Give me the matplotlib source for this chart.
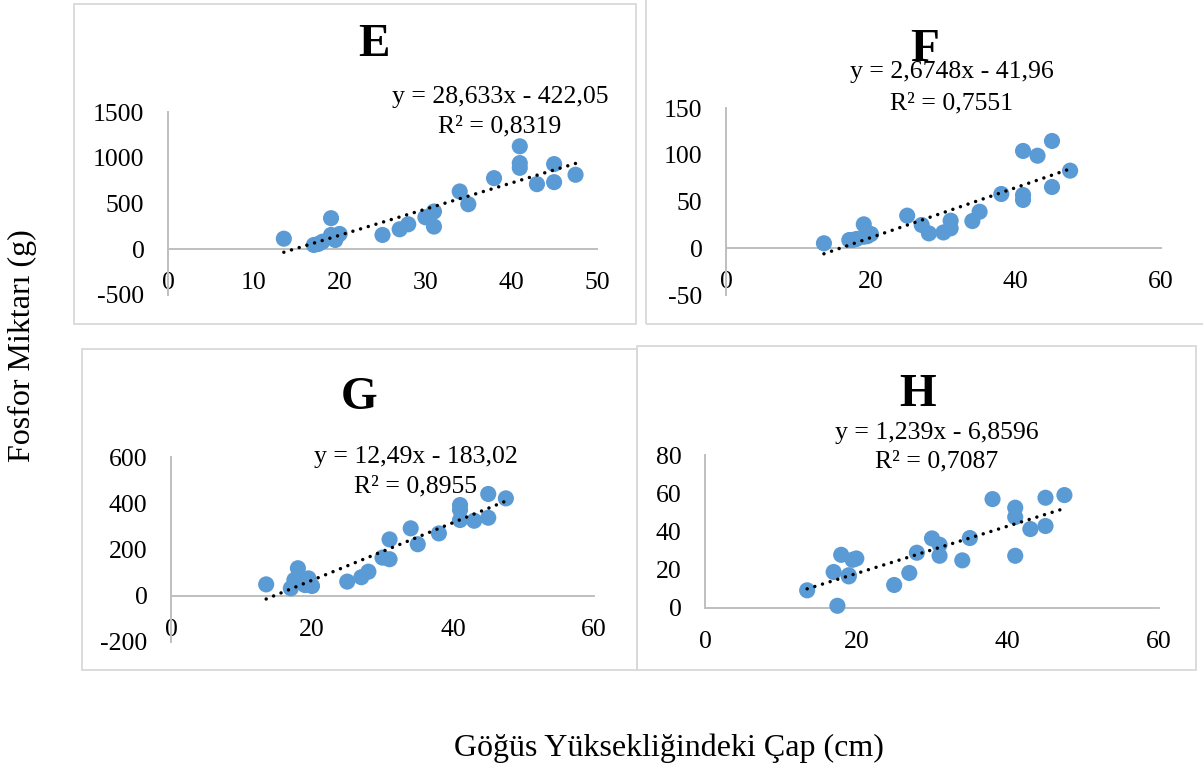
import numpy as np
import matplotlib
matplotlib.use("Agg")
import matplotlib.pyplot as plt
from matplotlib.patches import Rectangle

plt.rcParams['font.family'] = ['Liberation Serif', 'DejaVu Serif']

# ---------------- data ----------------
dbh = [13.5, 17.0, 17.5, 18.0, 19.0, 19.0, 19.5, 20.0, 25.0, 27.0, 28.0, 30.0,
       31.0, 31.0, 34.0, 35.0, 38.0, 41.0, 41.0, 41.0, 43.0, 45.0, 45.0, 47.5]

p_E = [113, 44, 55, 80, 338, 154, 99, 165, 154, 216, 271, 348,
       411, 246, 631, 491, 777, 1126, 942, 890, 711, 931, 733, 814]
p_F = [5.4, 8.9, 9.0, 10.0, 25.7, 12.4, 13.0, 15.3, 35.0, 25.0, 16.0, 17.0,
       29.6, 21.4, 29.2, 39.2, 58.2, 104.3, 57.1, 51.8, 99.2, 115.0, 65.7, 83.2]
p_G = [49, 32, 68, 119, 46, 60, 75, 42, 61, 80, 104, 165,
       244, 158, 292, 223, 270, 393, 372, 328, 325, 441, 338, 422]
p_H = [9.1, 18.7, 1.0, 27.7, 16.4, 17.0, 25.1, 25.8, 11.9, 18.2, 28.8, 36.3,
       33.0, 27.2, 24.8, 36.5, 56.9, 52.4, 47.5, 27.2, 41.2, 57.6, 42.8, 59.0]

panel_names = ["E", "F", "G", "H"]
slopes = [28.633, 2.6748, 12.49, 1.239]
intercepts = [-422.05, -41.96, -183.02, -6.8596]
equations = ["y = 28,633x - 422,05", "y = 2,6748x - 41,96",
             "y = 12,49x - 183,02", "y = 1,239x - 6,8596"]
r2_texts = ["R² = 0,8319", "R² = 0,7551", "R² = 0,8955", "R² = 0,7087"]

x_ticks = [[0, 10, 20, 30, 40, 50], [0, 20, 40, 60], [0, 20, 40, 60], [0, 20, 40, 60]]
y_ticks = [[-500, 0, 500, 1000, 1500], [-50, 0, 50, 100, 150],
           [-200, 0, 200, 400, 600], [0, 20, 40, 60, 80]]

x_label = "Göğüs Yüksekliğindeki Çap (cm)"
y_label = "Fosfor Miktarı (g)"

# ---------------- layout (pixels) ----------------
W, H = 1203, 769
fig = plt.figure(figsize=(W / 100, H / 100), dpi=100)

def fx(px):
    return px / W

def fy(py):
    return 1 - py / H

# axes rectangles: x0, x1, ytop, ybottom
ax_px = [(168, 597, 112.2, 294.6),
         (726.2, 1160.6, 108.3, 295.0),
         (171, 594, 457.3, 641.8),
         (705, 1159, 455.0, 607.7)]
# panel boxes: x0, x1, ytop, ybottom
box_px = [(74, 636, 4, 324),
          (645.7, 1215, -5, 324.3),
          (82, 637, 349.3, 670),
          (637.3, 1195.7, 345.7, 670)]
title_pos = [(374, 45), (925, 50), (359, 398), (918, 395)]
eq_pos = [(500, 96.7), (952, 71.7), (416, 456.7), (937, 432.7)]
r2_pos = [(500, 126), (952, 103), (416, 486.7), (937, 461.7)]

series = [p_E, p_F, p_G, p_H]

for (bx0, bx1, bt, bb) in box_px:
    fig.patches.append(Rectangle((fx(bx0), fy(bb)), fx(bx1) - fx(bx0), fy(bt) - fy(bb),
                                 transform=fig.transFigure, fill=False,
                                 edgecolor='#D9D9D9', linewidth=1.3, zorder=0))

axis_col = '#BFBFBF'
for i in range(4):
    x0, x1, yt, yb = ax_px[i]
    ax = fig.add_axes([fx(x0), fy(yb), fx(x1) - fx(x0), fy(yt) - fy(yb)])
    ax.patch.set_alpha(0)
    xs = np.array(dbh)
    ys = np.array(series[i])
    ax.scatter(xs, ys, s=135, color='#5B9BD5', edgecolors='none', zorder=3, clip_on=False)
    xl = np.array([xs.min(), xs.max()])
    ax.plot(xl, slopes[i] * xl + intercepts[i], color='black', linewidth=2.5,
            linestyle=(0, (0.01, 2.3)), dash_capstyle='round', zorder=4, clip_on=False)
    ax.set_xlim(x_ticks[i][0], x_ticks[i][-1])
    ax.set_ylim(y_ticks[i][0], y_ticks[i][-1])
    ax.set_xticks(x_ticks[i])
    ax.set_yticks(y_ticks[i])
    ax.set_xticklabels([str(v) for v in x_ticks[i]])
    ax.set_yticklabels([str(v) for v in y_ticks[i]])
    for s in ['top', 'right']:
        ax.spines[s].set_visible(False)
    ax.spines['left'].set_position(('data', 0))
    ax.spines['bottom'].set_position(('data', 0))
    for s in ['left', 'bottom']:
        ax.spines[s].set_color(axis_col)
        ax.spines[s].set_linewidth(1.4)
    ax.tick_params(axis='x', length=0, pad=16.5, labelsize=18.5, colors='black')
    ax.tick_params(axis='y', length=0, pad=17, labelsize=18.5, colors='black')

    fig.text(fx(title_pos[i][0]), fy(title_pos[i][1]), panel_names[i], ha='center',
             va='center', fontsize=34, fontweight='bold')
    fig.text(fx(eq_pos[i][0]), fy(eq_pos[i][1]), equations[i], ha='center',
             va='center', fontsize=18.5)
    fig.text(fx(r2_pos[i][0]), fy(r2_pos[i][1]), r2_texts[i], ha='center',
             va='center', fontsize=18.5)

fig.text(fx(22), fy(346), y_label, rotation=90, ha='center', va='center', fontsize=23)
fig.text(fx(669), fy(748), x_label, ha='center', va='center', fontsize=23)

fig.savefig("out.png", dpi=100, facecolor='white')
